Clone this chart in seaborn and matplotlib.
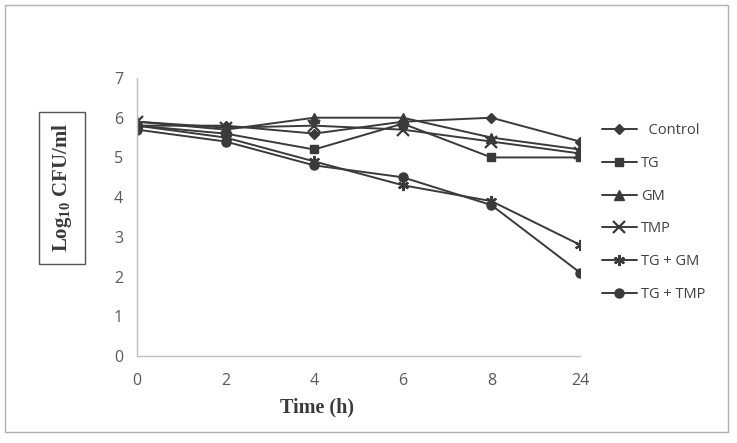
import numpy as np
import pandas as pd
import matplotlib
matplotlib.use("Agg")
import matplotlib.pyplot as plt
import seaborn as sns
from matplotlib.patches import Rectangle

time_labels = ["0", "2", "4", "6", "8", "24"]
control = [5.8, 5.8, 5.6, 5.9, 6.0, 5.4]
tg = [5.8, 5.6, 5.2, 5.85, 5.0, 5.0]
gm = [5.9, 5.7, 6.0, 6.0, 5.5, 5.2]
tmp = [5.9, 5.75, 5.8, 5.7, 5.4, 5.1]
tg_gm = [5.8, 5.5, 4.9, 4.3, 3.9, 2.8]
tg_tmp = [5.7, 5.4, 4.8, 4.5, 3.8, 2.1]
series_names = ["Control", "TG", "GM", "TMP", "TG + GM", "TG + TMP"]

series_values = [control, tg, gm, tmp, tg_gm, tg_tmp]

sns.set_theme(style="white")
plt.rcParams["font.family"] = ["Open Sans", "DejaVu Sans"]
plt.rcParams["mathtext.default"] = "regular"

fig = plt.figure(figsize=(7.37, 4.43), dpi=100)
ax = fig.add_axes([137/737, 1-356/443, (580-137)/737, (356-78)/443])

line_col = "#3a3a3a"
markers = {"Control": "D", "TG": "s", "GM": "^", "TMP": "x",
           "TG + GM": (6, 2, 0), "TG + TMP": "o"}
sizes_m = {"Control": 5, "TG": 6, "GM": 7, "TMP": 8, "TG + GM": 8, "TG + TMP": 6.5}

for name, vals in zip(series_names, series_values):
    d = pd.DataFrame({"pos": np.arange(len(vals)), "value": vals})
    lw_m = 1.6 if name in ("TMP", "TG + GM") else 1.0
    sns.lineplot(data=d, x="pos", y="value", ax=ax, color=line_col,
                 marker=markers[name], markersize=sizes_m[name],
                 markeredgecolor=line_col, markerfacecolor=line_col,
                 markeredgewidth=lw_m, linewidth=1.4, label=name)

ax.set_xlim(0, 5)
ax.set_ylim(0, 7)
ax.set_xticks(range(len(time_labels)))
ax.set_xticklabels(time_labels)
ax.set_yticks(range(0, 8))
for s in ["top", "right"]:
    ax.spines[s].set_visible(False)
for s in ["left", "bottom"]:
    ax.spines[s].set_color("#c0c0c0")
    ax.spines[s].set_linewidth(1.0)
ax.tick_params(axis="both", which="both", direction="out", length=4,
               color="#c0c0c0", labelsize=11.5, labelcolor="#595959", pad=6)
ax.tick_params(axis="x", pad=8)

ax.set_xlabel("Time (h)", fontfamily="Liberation Serif", fontweight="bold",
              fontsize=14.5, color="#3a3a3a", labelpad=1)
ax.xaxis.set_label_coords((317-137)/443, -0.15)
ax.set_ylabel("")
fig.text(62/737, 1-188/443, "Log$_{10}$ CFU/ml", rotation=90,
         fontfamily="Liberation Serif", fontweight="bold", fontsize=15,
         color="#3a3a3a", ha="center", va="center",
         bbox=dict(boxstyle="square,pad=0.55", facecolor="white",
                   edgecolor="#555555", linewidth=1.0))

handles, labels = ax.get_legend_handles_labels()
if ax.legend_ is not None:
    ax.legend_.remove()
new_labels = ["  " + l if l == "Control" else l for l in labels]
leg = ax.legend(handles, new_labels, loc="upper left",
                bbox_to_anchor=(1.02, 0.885), frameon=False,
                fontsize=10.5, handlelength=2.4, handletextpad=0.3,
                labelspacing=1.22)
for t in leg.get_texts():
    t.set_color("#404040")

fig.patches.append(Rectangle((5/737, 1-432/443), 723/737, 427/443,
                             transform=fig.transFigure, fill=False,
                             edgecolor="#b0b0b0", linewidth=1.0))

fig.savefig("out.png", dpi=100)
